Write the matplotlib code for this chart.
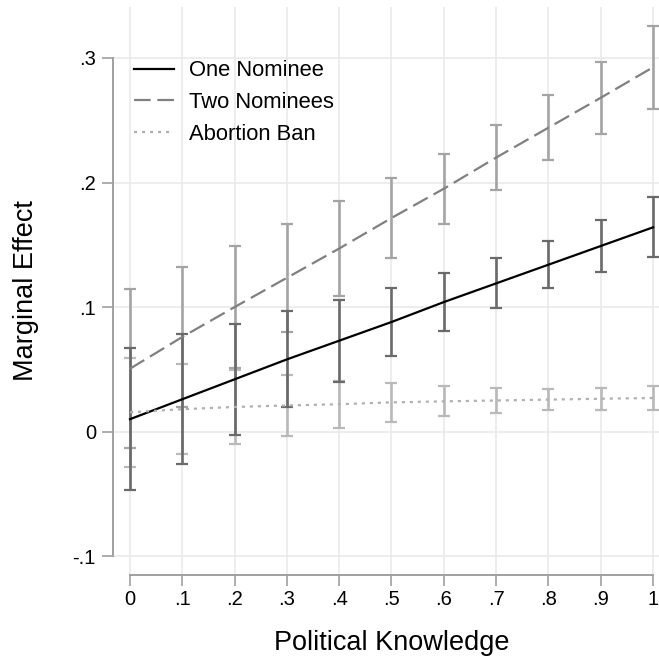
import matplotlib
matplotlib.use("Agg")
import matplotlib.pyplot as plt
import numpy as np

plt.rcParams['font.family'] = ['Liberation Sans', 'DejaVu Sans']

# political knowledge grid
knowledge = [0, .1, .2, .3, .4, .5, .6, .7, .8, .9, 1]
x_labels = ['0', '.1', '.2', '.3', '.4', '.5', '.6', '.7', '.8', '.9', '1']
y_ticks = [-.1, 0, .1, .2, .3]
y_labels = ['-.1', '0', '.1', '.2', '.3']

# marginal effects and confidence interval half-widths
one_nominee = [0.010, 0.026, 0.042, 0.058, 0.073, 0.088, 0.104, 0.119, 0.134, 0.149, 0.164]
one_nominee_ci = [0.057, 0.052, 0.0445, 0.0385, 0.033, 0.0275, 0.023, 0.020, 0.019, 0.0205, 0.024]

two_nominees = [0.0505, 0.076, 0.100, 0.1235, 0.147, 0.1715, 0.195, 0.220, 0.244, 0.268, 0.2925]
two_nominees_ci = [0.064, 0.056, 0.049, 0.0435, 0.038, 0.0325, 0.028, 0.026, 0.026, 0.029, 0.0335]

abortion_ban = [0.0155, 0.018, 0.0198, 0.021, 0.022, 0.0235, 0.0243, 0.025, 0.0257, 0.0264, 0.027]
abortion_ban_ci = [0.044, 0.036, 0.030, 0.0245, 0.019, 0.0155, 0.012, 0.010, 0.0086, 0.0088, 0.0096]

fig = plt.figure(figsize=(6.59, 6.62), dpi=100)
ax = fig.add_axes([113 / 659, 87.5 / 662, 546 / 659, 567.5 / 662])

x = np.array(knowledge)

# confidence intervals first, lines on top
ax.errorbar(x, two_nominees, yerr=two_nominees_ci, fmt='none', ecolor='#a4a4a4',
            elinewidth=1.9, capsize=4.5, capthick=1.6, zorder=2)
ax.errorbar(x, abortion_ban, yerr=abortion_ban_ci, fmt='none', ecolor='#b9b9b9',
            elinewidth=1.9, capsize=4.5, capthick=1.6, zorder=2)
ax.errorbar(x, one_nominee, yerr=one_nominee_ci, fmt='none', ecolor='#6a6a6a',
            elinewidth=1.9, capsize=4.5, capthick=1.6, zorder=2)

ax.plot(x, one_nominee, color='black', lw=1.6, label='One Nominee', zorder=3)
ax.plot(x, two_nominees, color='#808080', lw=1.6, ls=(0, (7.5, 3)), label='Two Nominees', zorder=3)
ax.plot(x, abortion_ban, color='#b0b0b0', lw=1.6, ls=(0, (1.4, 2.2)), label='Abortion Ban', zorder=3)

ax.set_xlim(-0.0325, 1.0115)
ax.set_ylim(-0.1147, 0.3409)

ax.set_xticks(knowledge)
ax.set_xticklabels(x_labels)
ax.set_yticks(y_ticks)
ax.set_yticklabels(y_labels)

ax.grid(True, color='#e8e8e8', lw=1.1, zorder=0)
ax.set_axisbelow(True)

for s in ['top', 'right']:
    ax.spines[s].set_visible(False)
ax.spines['left'].set_bounds(-0.1, 0.3)
ax.spines['bottom'].set_bounds(0, 1)
for s in ['left', 'bottom']:
    ax.spines[s].set_color('#a0a0a0')
    ax.spines[s].set_linewidth(1.4)

ax.tick_params(axis='both', colors='#a0a0a0', length=8, width=1.2, labelsize=14.5,
               labelcolor='black')
ax.tick_params(axis='x', pad=3)
ax.tick_params(axis='y', pad=4.3)

ax.set_xlabel('Political Knowledge', fontsize=19.5)
ax.set_ylabel('Marginal Effect', fontsize=19.5)
ax.xaxis.set_label_coords(0.51, -0.097)
ax.yaxis.set_label_coords(-0.1355, 0.5)

ax.legend(loc='upper left', bbox_to_anchor=(0.039, 0.906), frameon=False,
          fontsize=15.8, handlelength=1.83, handletextpad=0.68, labelspacing=0.49,
          borderpad=0, borderaxespad=0)

fig.savefig('out.png', dpi=100, facecolor='white')
